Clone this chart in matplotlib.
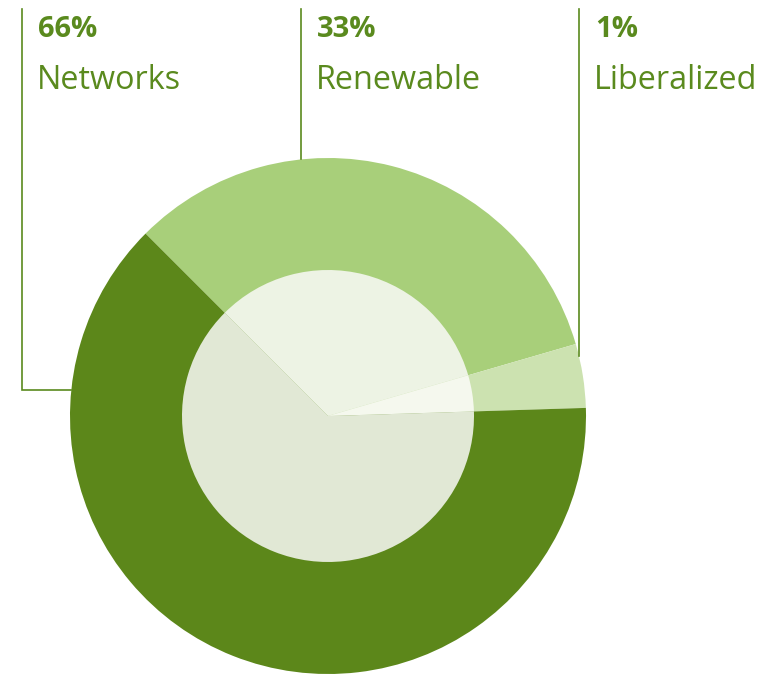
import numpy as np
import matplotlib.pyplot as plt

# labels as printed, left to right
categories = ['Networks', 'Renewable', 'Liberalized']
pct_labels = ['66%', '33%', '1%']
shares = [63, 33, 4]

ring_colors = ['#5c871a', '#a8cf7a', '#cce2b0']
core_colors = ['#e1e8d5', '#edf3e4', '#f5f8ee']
TEXT = '#5a8a1e'
LINE = '#5a8a1e'

W, H = 759, 688
CX, CY = 328, H - 416
R_OUT, R_IN = 258, 146

fig = plt.figure(figsize=(W / 100, H / 100), dpi=100)
ax = fig.add_axes([0, 0, 1, 1])

# clockwise from 135 deg: Renewable, Liberalized, Networks
order = [1, 2, 0]
vals = [shares[i] for i in order]
ax.pie(vals, colors=[ring_colors[i] for i in order], radius=R_OUT,
       center=(CX, CY), startangle=135, counterclock=False,
       wedgeprops=dict(linewidth=0), frame=True)
ax.pie(vals, colors=[core_colors[i] for i in order], radius=R_IN,
       center=(CX, CY), startangle=135, counterclock=False,
       wedgeprops=dict(linewidth=0), frame=True)
ax.set_xlim(0, W)
ax.set_ylim(0, H)
ax.set_aspect('equal')
ax.axis('off')

# label columns and leader lines
label_x = [22, 301, 579]
top_y = H - 9
for i, name in enumerate(categories):
    lx = label_x[i]
    ax.text(lx + 16, H - 37, pct_labels[i], fontsize=21, fontweight='bold',
            color=TEXT, family=['Open Sans', 'DejaVu Sans'], va='baseline')
    ax.text(lx + 15, H - 89, name, fontsize=23.3, color=TEXT,
            family=['Open Sans', 'DejaVu Sans'], va='baseline')
    if i == 0:
        # goes down, then right until it hits the ring
        hy = H - 390
        hx = CX - np.sqrt(R_OUT ** 2 - (hy - CY) ** 2)
        ax.plot([lx, lx, hx], [top_y, hy, hy], color=LINE, lw=1.2,
                solid_joinstyle='miter')
    else:
        ey = CY + np.sqrt(R_OUT ** 2 - (lx - CX) ** 2)
        ax.plot([lx, lx], [top_y, ey], color=LINE, lw=1.2)

fig.savefig('out.png', dpi=100)
